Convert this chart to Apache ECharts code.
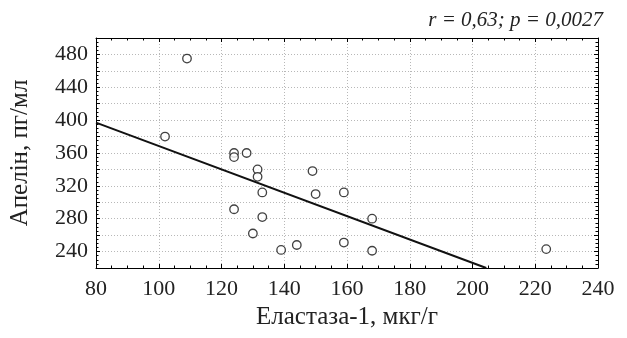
<!DOCTYPE html>
<html>
<head>
<meta charset="utf-8">
<script src="https://cdn.jsdelivr.net/npm/echarts@6/dist/echarts.min.js"></script>
<style>
  html, body { margin: 0; padding: 0; background: #fff; }
  #chart { width: 627px; height: 338px; }
</style>
</head>
<body>
<div id="chart"></div>
<script>
var elastase = [109, 102, 124, 124, 128, 131.5, 131.5, 133, 124, 133, 130, 139, 144, 149, 150, 159, 159, 168, 168, 223.5];
var apelin   = [475, 380, 360, 355, 360, 340, 331, 312, 291.5, 282, 262, 242, 248, 338, 310, 312, 251, 280, 241, 243];
// regression line ends
var lineX = [80, 204.4];
var lineY = [397, 220];
var xTicks = [80, 100, 120, 140, 160, 180, 200, 220, 240];
var yTicks = [240, 280, 320, 360, 400, 440, 480];

var points = elastase.map(function (x, i) { return [x, apelin[i]]; });
var fitLine = lineX.map(function (x, i) { return [x, lineY[i]]; });

var font = '"Liberation Serif", "DejaVu Serif", serif';
var dom = document.getElementById('chart');
var myChart = echarts.init(dom);

var gridLine = { show: true, lineStyle: { color: '#b8b8b8', type: [1, 2], width: 1 } };
var tickStyle = { show: true, inside: true, length: 4, lineStyle: { color: '#000' } };
var minorStyle = { show: true, splitNumber: 4, length: 2.5, lineStyle: { color: '#000' } };

var option = {
    backgroundColor: '#ffffff',
    animation: false,
    title: {
        text: 'r = 0,63; p = 0,0027',
        right: 19,
        top: 5,
        textStyle: { fontFamily: font, fontStyle: 'italic', fontWeight: 'normal', fontSize: 21, color: '#222' }
    },
    grid: { left: 96, right: 29, top: 38, bottom: 70 },
    xAxis: [
        {
            type: 'value', min: 80, max: 240, interval: 20,
            name: 'Еластаза-1, мкг/г', nameLocation: 'middle', nameGap: 37,
            nameTextStyle: { fontFamily: font, fontSize: 25, color: '#222' },
            axisLine: { show: true, lineStyle: { color: '#000', width: 1 } },
            axisTick: tickStyle, minorTick: minorStyle,
            axisLabel: {
                fontFamily: font, fontSize: 22, color: '#222', margin: 10,
                formatter: function (v) { return xTicks.indexOf(v) >= 0 ? String(v) : ''; }
            },
            splitLine: gridLine
        },
        {
            type: 'value', position: 'top', min: 80, max: 240, interval: 20,
            axisLine: { show: true, onZero: false, lineStyle: { color: '#000', width: 1 } },
            axisTick: tickStyle, minorTick: minorStyle,
            axisLabel: { show: false }, splitLine: { show: false }
        }
    ],
    yAxis: [
        {
            type: 'value', min: 220, max: 500, interval: 20,
            name: 'Апелін, пг/мл', nameLocation: 'middle', nameGap: 63, nameRotate: 90,
            nameTextStyle: { fontFamily: font, fontSize: 25, color: '#222' },
            axisLine: { show: true, lineStyle: { color: '#000', width: 1 } },
            axisTick: tickStyle, minorTick: minorStyle,
            axisLabel: {
                fontFamily: font, fontSize: 22, color: '#222', margin: 8,
                formatter: function (v) { return yTicks.indexOf(v) >= 0 ? String(v) : ''; }
            },
            splitLine: gridLine
        },
        {
            type: 'value', position: 'right', min: 220, max: 500, interval: 20,
            axisLine: { show: true, onZero: false, lineStyle: { color: '#000', width: 1 } },
            axisTick: tickStyle, minorTick: minorStyle,
            axisLabel: { show: false }, splitLine: { show: false }
        }
    ],
    series: [
        {
            name: 'fit', type: 'line', data: fitLine, symbol: 'none',
            lineStyle: { color: '#111', width: 2 }, z: 2
        },
        {
            name: 'points', type: 'scatter', data: points, symbol: 'circle', symbolSize: 8.5,
            itemStyle: { color: '#fff', borderColor: '#111', borderWidth: 1.3 }, z: 3
        }
    ]
};

if (option && typeof option === 'object') {
    myChart.setOption(option, true);
}
</script>
</body>
</html>
